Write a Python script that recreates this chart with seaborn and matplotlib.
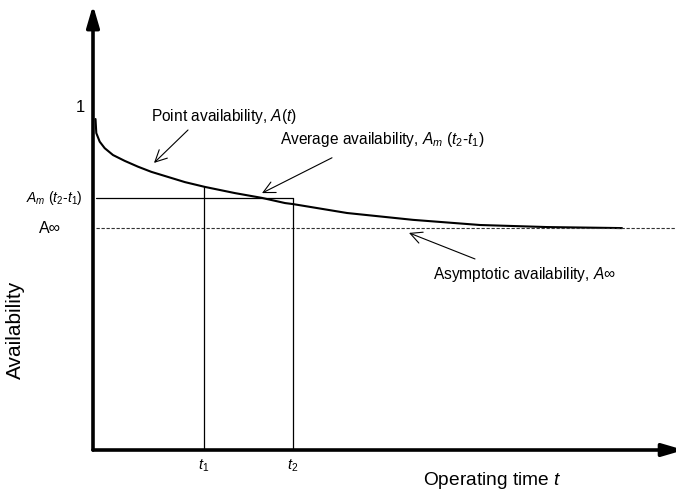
import numpy as np
import pandas as pd
import matplotlib
matplotlib.use('Agg')
import matplotlib.pyplot as plt
import seaborn as sns

# point availability curve
time_pts = [0.05, 0.066, 0.134, 0.234, 0.40, 0.634, 0.90, 1.166, 1.84, 2.24,
            2.84, 3.38, 3.84, 4.00, 5.08, 6.40, 7.74, 9.08, 10.58]
avail_pts = [0.965, 0.924, 0.899, 0.880, 0.860, 0.843, 0.826, 0.811, 0.781,
             0.767, 0.749, 0.735, 0.720, 0.717, 0.691, 0.671, 0.656, 0.650, 0.647]

a_inf = 0.647      # asymptotic availability
a_mean = 0.735     # average availability over [t1, t2]
t1, t2 = 2.22, 4.00
a_at_t1 = 0.768

curve = pd.DataFrame({'t': time_pts, 'A': avail_pts})

sns.set_theme(style='white')
plt.rcParams['font.family'] = ['Liberation Sans', 'DejaVu Sans']
plt.rcParams['text.color'] = 'black'
plt.rcParams['mathtext.fontset'] = 'custom'
plt.rcParams['mathtext.rm'] = 'Liberation Sans'
plt.rcParams['mathtext.it'] = 'Liberation Sans:italic'

fig = plt.figure(figsize=(6.76, 4.90), dpi=100)
ax = fig.add_axes([0, 0, 1, 1])
ax.set_xlim(-1.86, 11.66)
ax.set_ylim(-0.1166, 1.312)
ax.axis('off')

# curve
sns.lineplot(data=curve, x='t', y='A', color='black', lw=1.5, ax=ax,
             solid_joinstyle='round', solid_capstyle='round')

# asymptote and the average box
ax.plot([0.06, 11.66], [a_inf, a_inf], color='#333333', lw=0.8, ls=(0, (3, 1.5)))
ax.plot([0.06, t2], [a_mean, a_mean], color='black', lw=0.9)
ax.plot([t1, t1], [0, a_at_t1], color='black', lw=0.9)
ax.plot([t2, t2], [0, a_mean], color='black', lw=0.9)

# axes with arrow heads
axis_arrow = dict(arrowstyle='-|>,head_length=0.65,head_width=0.19', lw=2.6,
                  color='black', mutation_scale=20, shrinkA=0, shrinkB=0)
ax.annotate('', xy=(0, 1.297), xytext=(0, 0), arrowprops=axis_arrow)
ax.annotate('', xy=(11.82, 0), xytext=(0, 0), arrowprops=axis_arrow,
            annotation_clip=False)

fs = 11.2
ax.text(-0.26, 1.0, '1', ha='center', va='center', fontsize=12)
ax.text(-0.2, a_mean, r'$A_m$ ($t_2$-$t_1$)', ha='right', va='center', fontsize=10)
ax.text(-0.86, a_inf, 'A∞', ha='center', va='center', fontsize=11.5)
ax.text(-1.56, 0.35, 'Availability', rotation=90, ha='center', va='center', fontsize=15)
ax.text(t1, -0.047, r'$t_1$', ha='center', va='center', fontsize=10.5)
ax.text(t2, -0.047, r'$t_2$', ha='center', va='center', fontsize=10.5)
ax.text(7.98, -0.09, r'Operating time $t$', ha='center', va='center', fontsize=13.8)

# annotations with thin open arrows
thin = dict(arrowstyle='->,head_length=0.6,head_width=0.3', lw=0.8, color='black',
            mutation_scale=14, shrinkA=0, shrinkB=0)
ax.text(1.16, 0.971, r'Point availability, $A(t)$', ha='left', va='center', fontsize=fs)
ax.annotate('', xy=(1.22, 0.837), xytext=(1.90, 0.933), arrowprops=thin)
ax.text(3.74, 0.904, r'Average availability, $A_m$ $(t_2$-$t_1)$', ha='left', va='center', fontsize=fs)
ax.annotate('', xy=(3.38, 0.749), xytext=(4.78, 0.852), arrowprops=thin)
ax.text(6.80, 0.513, r'Asymptotic availability, $A$∞', ha='left', va='center', fontsize=fs)
ax.annotate('', xy=(6.32, 0.633), xytext=(7.64, 0.557), arrowprops=thin)

fig.savefig('out.png', dpi=100)
